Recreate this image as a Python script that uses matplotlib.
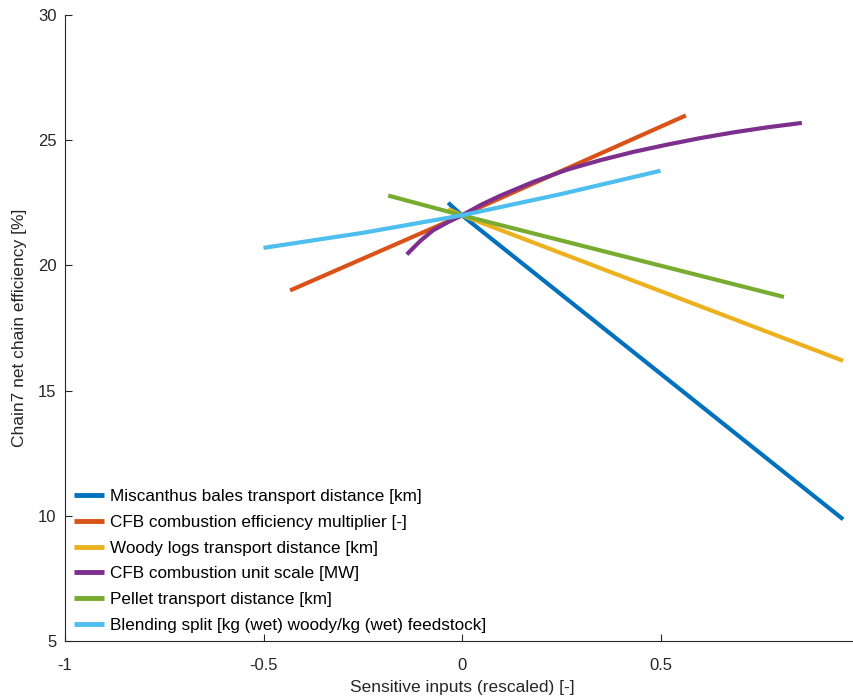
import matplotlib
matplotlib.use("Agg")
import matplotlib.pyplot as plt

plt.rcParams['font.family'] = ['Liberation Sans', 'DejaVu Sans']

labels = [
    "Miscanthus bales transport distance [km]",
    "CFB combustion efficiency multiplier [-]",
    "Woody logs transport distance [km]",
    "CFB combustion unit scale [MW]",
    "Pellet transport distance [km]",
    "Blending split [kg (wet) woody/kg (wet) feedstock]",
]
colors = ["#0072BD", "#D95319", "#EDB120", "#7E2F8E", "#77AC30", "#4DBEEE"]

miscanthus_x = [-0.035, 0.0, 0.96]
miscanthus_y = [22.5, 22.0, 9.86]
cfb_eff_x = [-0.433, 0.0, 0.564]
cfb_eff_y = [19.0, 22.0, 25.99]
woody_x = [-0.035, 0.0, 0.96]
woody_y = [22.25, 22.0, 16.19]
cfb_scale_x = [-0.139, -0.105, -0.073, -0.035, 0.0, 0.048, 0.096, 0.179, 0.264, 0.348,
               0.431, 0.516, 0.599, 0.683, 0.767, 0.856]
cfb_scale_y = [20.44, 20.98, 21.4, 21.73, 22.0, 22.42, 22.78, 23.33, 23.82, 24.2,
               24.53, 24.82, 25.08, 25.31, 25.51, 25.69]
pellet_x = [-0.186, 0.0, 0.811]
pellet_y = [22.79, 22.0, 18.74]
blend_x = [-0.5, -0.25, 0.0, 0.25, 0.5]
blend_y = [20.7, 21.3, 22.0, 22.85, 23.78]

series = [(miscanthus_x, miscanthus_y), (cfb_eff_x, cfb_eff_y), (woody_x, woody_y),
          (cfb_scale_x, cfb_scale_y), (pellet_x, pellet_y), (blend_x, blend_y)]

fig = plt.figure(figsize=(8.54, 6.98), dpi=100)
ax = fig.add_axes([65/854, 1-641/698, (859-65)/854, (641-15)/698])

for (x, y), c, lab in zip(series, colors, labels):
    ax.plot(x, y, color=c, lw=3.0, label=lab, solid_capstyle='butt',
            solid_joinstyle='round')

ax.set_xlim(-1, 1)
ax.set_ylim(5, 30)
ax.set_xticks([-1, -0.5, 0, 0.5])
ax.set_xticklabels(['-1', '-0.5', '0', '0.5'])
ax.set_yticks([5, 10, 15, 20, 25, 30])
ax.spines['top'].set_visible(False)
ax.spines['right'].set_visible(False)
for s in ['left', 'bottom']:
    ax.spines[s].set_color('#262626')
    ax.spines[s].set_linewidth(0.8)
ax.tick_params(direction='in', length=5, width=0.8, colors='#262626', labelsize=12)
ax.tick_params(axis='x', pad=12)
ax.tick_params(axis='y', pad=6)
ax.set_xlabel('Sensitive inputs (rescaled) [-]', fontsize=12.5, color='#262626', labelpad=5)
ax.set_ylabel('Chain7 net chain efficiency [%]', fontsize=12.5, color='#262626', labelpad=8)

leg = ax.legend(loc='lower left', frameon=False, fontsize=12.3, handlelength=1.75,
                handletextpad=0.35, labelspacing=0.63, borderaxespad=0.0,
                bbox_to_anchor=(0.003, 0.002))
for h in leg.legend_handles:
    h.set_linewidth(3.5)

fig.savefig('out.png', dpi=100)
